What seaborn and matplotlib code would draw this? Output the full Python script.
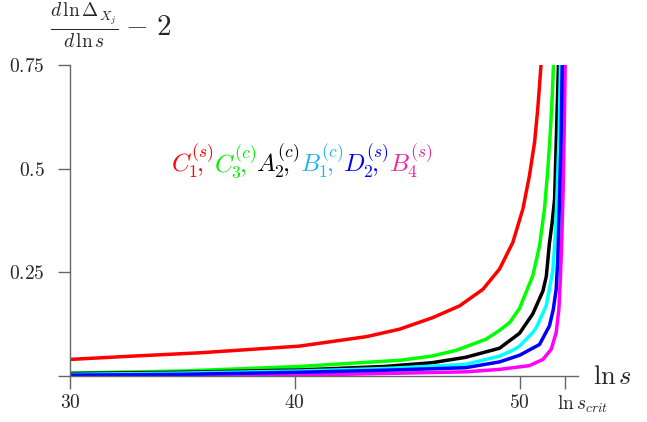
import pandas as pd
import numpy as np
import matplotlib
matplotlib.use('Agg')
import matplotlib.pyplot as plt
import matplotlib.transforms as mtransforms
import seaborn as sns

# values (x = ln s, y = d ln Delta / d ln s - 2)
red_x = [30, 32.8, 35.8, 40.2, 43.2, 44.67, 46.15, 47.33, 48.37, 49.11, 49.70, 50.15, 50.44, 50.67, 50.81, 50.96, 51.05]
red_y = [0.040, 0.048, 0.056, 0.072, 0.095, 0.113, 0.141, 0.169, 0.209, 0.258, 0.322, 0.403, 0.483, 0.564, 0.644, 0.753, 0.82]

green_x = [30, 35, 40.2, 44.7, 46.1, 47.19, 48.52, 49.11, 49.56, 50.0, 50.59, 50.89, 51.11, 51.26, 51.36, 51.45, 51.51, 51.58]
green_y = [0.007, 0.012, 0.023, 0.038, 0.048, 0.062, 0.089, 0.11, 0.129, 0.163, 0.242, 0.314, 0.403, 0.499, 0.58, 0.67, 0.75, 0.85]

black_x = [30, 35, 40.2, 44, 46.1, 47.6, 49.11, 50.0, 50.59, 51.04, 51.19, 51.33, 51.45, 51.56, 51.64, 51.73, 51.8]
black_y = [0.006, 0.009, 0.0145, 0.023, 0.032, 0.045, 0.067, 0.103, 0.150, 0.205, 0.24, 0.32, 0.37, 0.427, 0.58, 0.75, 0.85]

cyan_x = [30, 35, 40.2, 44, 47.6, 49.11, 49.70, 50.0, 50.59, 50.74, 51.19, 51.48, 51.58, 51.66, 51.76, 51.82, 51.87]
cyan_y = [0.004, 0.007, 0.012, 0.018, 0.028, 0.048, 0.062, 0.072, 0.105, 0.116, 0.17, 0.254, 0.33, 0.427, 0.58, 0.75, 0.85]

blue_x = [30, 35, 40.2, 44, 47.6, 49.11, 50.0, 50.89, 51.33, 51.5, 51.63, 51.7, 51.78, 51.85, 51.9, 51.95]
blue_y = [0.002, 0.004, 0.009, 0.014, 0.020, 0.034, 0.050, 0.076, 0.121, 0.16, 0.21, 0.282, 0.427, 0.58, 0.75, 0.85]

magenta_x = [30, 40.2, 47.6, 49.11, 50.44, 51.04, 51.41, 51.63, 51.75, 51.82, 51.88, 51.94, 51.99, 52.03, 52.06]
magenta_y = [0.001, 0.002, 0.010, 0.016, 0.025, 0.040, 0.0645, 0.105, 0.161, 0.24, 0.33, 0.45, 0.60, 0.75, 0.85]

curve_names = ['magenta', 'red', 'green', 'black', 'cyan', 'blue']
curve_colors = ['#ff00ff', '#ff0000', '#00ff00', '#000000', '#00ffff', '#0000ff']

x_ticks = [30, 40, 50, 52.04]
x_tick_labels = ['$30$', '$40$', '$50$', r'$\ln s_{crit}$']
y_ticks = [0, 0.25, 0.5, 0.75]
y_tick_labels = ['', '$0.25$', '$0.5$', '$0.75$']

label_parts = [r'$C_1^{(s)}\!\!\!\!\!,$', r'$C_3^{(c)}\!\!\!\!\!,$', r'$A_2^{(c)}\!\!\!\!\!,$',
               r'$B_1^{(c)}\!\!\!\!\!,$', r'$D_2^{(s)}\!\!\!\!\!,$', r'$B_4^{(s)}$']
label_colors = ['#ff0000', '#00ee00', '#000000', '#22b4ee', '#0000ff', '#ee2a9a']

# build long table for seaborn
xs = {'red': red_x, 'green': green_x, 'black': black_x, 'cyan': cyan_x,
      'blue': blue_x, 'magenta': magenta_x}
ys = {'red': red_y, 'green': green_y, 'black': black_y, 'cyan': cyan_y,
      'blue': blue_y, 'magenta': magenta_y}
frames = []
for name in curve_names:
    frames.append(pd.DataFrame({'lns': xs[name], 'val': ys[name], 'curve': name}))
df = pd.concat(frames, ignore_index=True)

sns.set_style('white')
plt.rcParams['mathtext.fontset'] = 'cm'
plt.rcParams['font.family'] = ['DejaVu Serif']

fig = plt.figure(figsize=(6.47, 4.22), dpi=100)
ax = fig.add_axes([0.108, 0.109, 0.785, 0.737])

sns.lineplot(data=df, x='lns', y='val', hue='curve', hue_order=curve_names,
             palette=curve_colors, sort=False, linewidth=2.5, legend=False, ax=ax)

ax.set_xlim(30, 52.59)
ax.set_ylim(0, 0.75)
ax.set_xlabel('')
ax.set_ylabel('')

ax.set_xticks(x_ticks)
ax.set_xticklabels(x_tick_labels, fontsize=14)
ax.set_yticks(y_ticks)
ax.set_yticklabels(y_tick_labels, fontsize=14)

for side in ['top', 'right']:
    ax.spines[side].set_visible(False)
for side in ['left', 'bottom']:
    ax.spines[side].set_color('#666666')
    ax.spines[side].set_linewidth(1.0)
ax.tick_params(axis='both', direction='out', length=9, width=1.0, color='#666666',
               bottom=True, left=True)
ax.tick_params(axis='x', pad=4)
ax.tick_params(axis='y', pad=9)

# shift the ln s_crit label a bit to the right like the original
lab = ax.get_xticklabels()[-1]
lab.set_transform(lab.get_transform() + mtransforms.ScaledTranslation(17 / 100, 0, fig.dpi_scale_trans))

# axis labels
ax.text(1.03, 0.0, r'$\ln s$', transform=ax.transAxes, ha='left', va='center', fontsize=19)
fig.text(0.077, 0.94, r'$\frac{d\,\ln\Delta_{X_j}}{d\,\ln s}$', ha='left', va='center', fontsize=20)
fig.text(0.193, 0.935, r'$-\ 2$', ha='left', va='center', fontsize=21)

# coloured label list
t = ax.text(34.5, 0.47, label_parts[0], color=label_colors[0], fontsize=18, ha='left', va='bottom')
for part, col in zip(label_parts[1:], label_colors[1:]):
    t = ax.annotate(part, xy=(1, 0), xycoords=t, color=col, fontsize=18, ha='left', va='bottom')

plt.savefig('out.png', dpi=100)
